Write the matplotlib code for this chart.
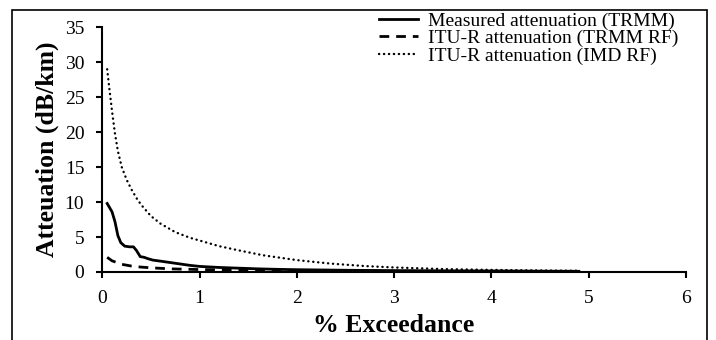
import matplotlib
matplotlib.use("Agg")
import matplotlib.pyplot as plt
from matplotlib.patches import Rectangle

plt.rcParams['font.family'] = ['Liberation Serif', 'DejaVu Serif']

# measured attenuation (TRMM)
x_meas = [0.05, 0.1, 0.13, 0.16, 0.19, 0.23, 0.28, 0.32, 0.35, 0.39, 0.43, 0.47,
          0.52, 0.6, 0.7, 0.8, 0.9, 1.0, 1.2, 1.4, 1.6, 1.8, 2.0, 2.5, 3.0, 3.5,
          4.0, 4.5, 4.9]
y_meas = [9.8, 8.6, 7.2, 5.2, 4.2, 3.7, 3.6, 3.6, 3.1, 2.2, 2.1, 1.9,
          1.7, 1.55, 1.35, 1.15, 0.95, 0.8, 0.65, 0.55, 0.45, 0.38, 0.33, 0.25, 0.2, 0.17,
          0.15, 0.12, 0.1]

# ITU-R with TRMM rain
x_trmm = [0.05, 0.1, 0.2, 0.3, 0.4, 0.5, 0.7, 1.0, 1.5, 2.0, 2.5, 3.0, 3.5, 4.0, 4.5, 4.9]
y_trmm = [2.1, 1.6, 1.1, 0.85, 0.7, 0.6, 0.45, 0.35, 0.25, 0.18, 0.14, 0.11, 0.09, 0.07, 0.06, 0.05]

# ITU-R with IMD rain
x_imd = [0.05, 0.07, 0.1, 0.13, 0.16, 0.2, 0.25, 0.3, 0.35, 0.4, 0.5, 0.6, 0.75,
         0.9, 1.0, 1.2, 1.4, 1.65, 2.0, 2.35, 2.7, 3.0, 3.5, 4.0, 4.5, 4.9]
y_imd = [29.0, 26.5, 23.0, 19.8, 17.3, 15.0, 13.2, 11.8, 10.6, 9.6, 8.0, 6.9, 5.7,
         4.9, 4.5, 3.7, 3.1, 2.4, 1.7, 1.2, 0.85, 0.65, 0.42, 0.3, 0.22, 0.18]

labels = ['Measured attenuation (TRMM)', 'ITU-R attenuation (TRMM RF)', 'ITU-R attenuation (IMD RF)']

fig = plt.figure(figsize=(7.16, 3.4), dpi=100)
ax = fig.add_axes([0.1429, 0.2, 0.815, 0.7197])

ax.plot(x_meas, y_meas, color='black', lw=2, label=labels[0])
ax.plot(x_trmm, y_trmm, color='black', lw=2, linestyle=(0, (3.5, 2.5)), label=labels[1])
ax.plot(x_imd, y_imd, color='black', lw=1.7, linestyle=(0, (0.1, 2.0)),
        dash_capstyle='round', label=labels[2])

ax.set_xlim(0, 6)
ax.set_ylim(0, 35)
ax.set_xticks(range(0, 7))
ax.set_yticks(range(0, 36, 5))
ax.spines['top'].set_visible(False)
ax.spines['right'].set_visible(False)
ax.spines['left'].set_linewidth(1.5)
ax.spines['bottom'].set_linewidth(1.5)
ax.tick_params(axis='both', direction='out', length=4, width=1.5, labelsize=14, pad=9)

ax.set_xlabel('% Exceedance', fontsize=18.5, fontweight='bold', labelpad=5)
ax.set_ylabel('Atteuation (dB/km)', fontsize=18.5, fontweight='bold', labelpad=4)

ax.legend(loc='upper right', bbox_to_anchor=(1.0, 1.095), frameon=False, fontsize=14,
          handlelength=2.0, handletextpad=0.5, labelspacing=0.0, borderaxespad=0)

fig.patches.append(Rectangle((11.5 / 716, -0.1), (706.7 - 11.5) / 716, 1.1 - 10 / 340,
                             transform=fig.transFigure, fill=False, lw=1.2, color='black'))

fig.savefig('out.png', dpi=100)
